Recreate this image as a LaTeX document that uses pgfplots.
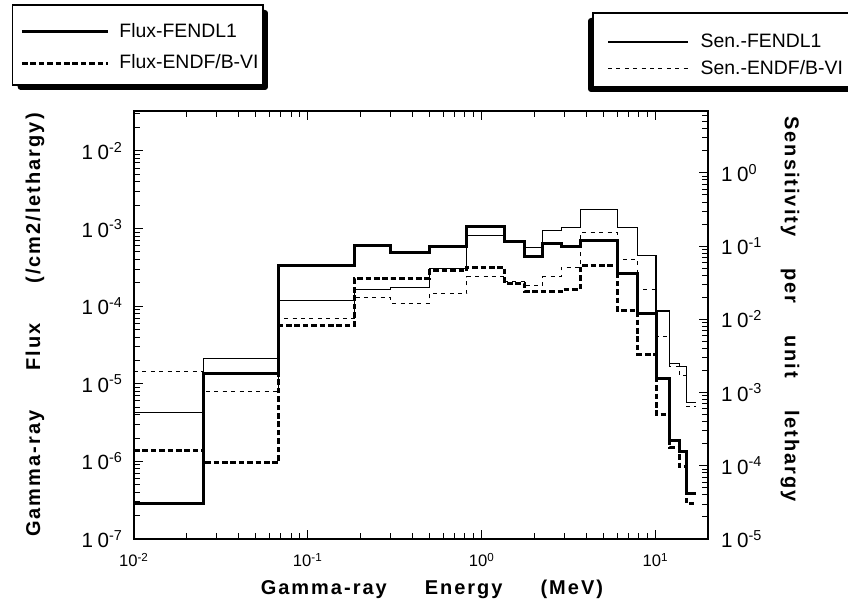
\documentclass[border=0pt]{standalone}
\usepackage{pgfplots}
\usepackage{pgfplotstable}
\pgfplotsset{compat=1.18}
\usepackage{fontspec}
\setmainfont{Liberation Sans}
\newfontfamily\lblfont[LetterSpace=10]{Liberation Sans}

\pgfplotstableread{
x      ff       fe       sf       se
0.01   2.9e-7   1.40e-6  5.3e-4   1.96e-3
0.025  1.35e-5  9.6e-7   2.95e-3  1.03e-3
0.068  3.37e-4  5.7e-5   0.0182   0.0102
0.185  6.0e-4   2.26e-4  0.0255   0.0198
0.3    4.95e-4  2.26e-4  0.0272   0.0167
0.5    5.9e-4   2.85e-4  0.0494   0.0225
0.82   1.06e-3  3.13e-4  0.138    0.038
1.36   6.8e-4   1.97e-4  0.118    0.0325
1.76   4.4e-4   1.54e-4  0.096    0.0292
2.24   6.4e-4   1.54e-4  0.162    0.038
2.86   5.8e-4   1.65e-4  0.180    0.051
3.69   7.1e-4   3.3e-4   0.318    0.152
6.05   2.65e-4  8.7e-5   0.180    0.066
7.89   8.1e-5   2.4e-5   0.0753   0.0255
10.05  1.17e-5  4.05e-6  0.013    5.8e-3
12.0   1.85e-6  1.5e-6   2.5e-3   2.3e-3
13.7   1.36e-6  8.5e-7   2.25e-3  1.7e-3
15.0   3.8e-7   2.85e-7  7.4e-4   6.5e-4
17.0   3.8e-7   2.85e-7  7.4e-4   6.5e-4
}\data

\newcommand{\tl}[1]{1\kern2.3pt0\textsuperscript{#1}}

\begin{document}
\begin{tikzpicture}
\path[use as bounding box] (-67pt,-34.5pt) rectangle (357pt,269.5pt);
% legend frames with their shadows (drawn first, behind the legends)
\fill[black, rounded corners=1.5pt] (-58.15pt,224.5pt) rectangle (67pt,264.5pt);
\draw[line width=0.6pt, fill=white] (-60.65pt,227pt) rectangle (64.5pt,267pt);
\fill[black, rounded corners=1.5pt] (227pt,223.5pt) rectangle (370pt,260.5pt);
\draw[line width=0.6pt, fill=white] (229.5pt,226pt) rectangle (372pt,263pt);
\begin{axis}[
  scale only axis, width=287pt, height=214pt,
  xmode=log, ymode=log, xmin=0.01, xmax=20,
  axis line style={line width=0.9pt},
  every tick/.style={black, line width=0.5pt},
  major tick length=4.5pt, minor tick length=3pt,
  tick align=inside,
  legend image code/.code={\draw[#1] (0pt,0pt) -- (43pt,0pt);},
  legend cell align=left,
  ymin=1e-7, ymax=0.0327,
  xtick pos=both, ytick pos=left, xticklabel pos=bottom,
  xtick={0.01,0.1,1,10},
  xticklabels={10\textsuperscript{-2},10\textsuperscript{-1},10\textsuperscript{0},10\textsuperscript{1}},
  minor xtick={0.02,0.03,0.04,0.05,0.06,0.07,0.08,0.09,0.2,0.3,0.4,0.5,0.6,0.7,0.8,0.9,2,3,4,5,6,7,8,9},
  ytick={1e-7,1e-6,1e-5,1e-4,1e-3,1e-2},
  yticklabels={\tl{-7},\tl{-6},\tl{-5},\tl{-4},\tl{-3},\tl{-2}},
  minor ytick={2e-7,3e-7,4e-7,5e-7,6e-7,7e-7,8e-7,9e-7,2e-6,3e-6,4e-6,5e-6,6e-6,7e-6,8e-6,9e-6,2e-5,3e-5,4e-5,5e-5,6e-5,7e-5,8e-5,9e-5,2e-4,3e-4,4e-4,5e-4,6e-4,7e-4,8e-4,9e-4,2e-3,3e-3,4e-3,5e-3,6e-3,7e-3,8e-3,9e-3,2e-2,3e-2},
  xticklabel style={font=\fontsize{8.3}{10}\selectfont, yshift=-3.5pt},
  yticklabel style={font=\fontsize{10.3}{12}\selectfont, xshift=-2pt},
  xlabel={\lblfont\bfseries Gamma-ray\hspace{19pt}Energy\hspace{19pt}(MeV)},
  xlabel style={at={(axis description cs:0.519,-0.117)}, anchor=center, font=\fontsize{10}{12}\selectfont},
  ylabel={\lblfont\bfseries Gamma-ray\hspace{20pt}Flux\hspace{20pt}(/cm2/lethargy)},
  ylabel style={at={(axis description cs:-0.1725,0.5)}, anchor=center, font=\fontsize{10}{12}\selectfont},
  legend style={at={(axis description cs:-0.1985,1.1483)}, anchor=west,
    draw=none, fill=none,
    font=\fontsize{9.7}{11}\selectfont, row sep=3pt, inner xsep=0pt, inner ysep=0pt},
]
\addplot[const plot, black, line width=1.5pt] table[x=x,y=ff]{\data};
\addlegendentry{\hspace*{3pt}Flux-FENDL1}
\addplot[const plot, black, line width=1.5pt, dash pattern=on 2.8pt off 1.4pt] table[x=x,y=fe]{\data};
\addlegendentry{\hspace*{3pt}Flux-ENDF/B-VI}
\end{axis}
\begin{axis}[
  scale only axis, width=287pt, height=214pt,
  xmode=log, ymode=log, xmin=0.01, xmax=20,
  axis line style={line width=0.9pt},
  every tick/.style={black, line width=0.5pt},
  major tick length=4.5pt, minor tick length=3pt,
  tick align=inside,
  legend image code/.code={\draw[#1] (0pt,0pt) -- (40pt,0pt);},
  legend cell align=left,
  ymin=1e-5, ymax=7,
  axis x line=none, axis y line*=right, ytick pos=right,
  ytick={1e-5,1e-4,1e-3,1e-2,1e-1,1},
  yticklabels={\tl{-5},\tl{-4},\tl{-3},\tl{-2},\tl{-1},\tl{0}},
  minor ytick={2e-5,3e-5,4e-5,5e-5,6e-5,7e-5,8e-5,9e-5,2e-4,3e-4,4e-4,5e-4,6e-4,7e-4,8e-4,9e-4,2e-3,3e-3,4e-3,5e-3,6e-3,7e-3,8e-3,9e-3,2e-2,3e-2,4e-2,5e-2,6e-2,7e-2,8e-2,9e-2,0.2,0.3,0.4,0.5,0.6,0.7,0.8,0.9,2,3,4,5,6,7},
  yticklabel style={font=\fontsize{10.3}{12}\selectfont, xshift=3pt},
  ylabel={\lblfont\bfseries Sensitivity\hspace{16pt}per\hspace{16pt}unit\hspace{16pt}lethargy},
  ylabel style={at={(axis description cs:1.143,0.537)}, anchor=center, rotate=180, font=\fontsize{10}{12}\selectfont},
  legend style={at={(axis description cs:0.8241,1.1296)}, anchor=west,
    draw=none, fill=none,
    font=\fontsize{9.7}{11}\selectfont, row sep=1pt, inner xsep=0pt, inner ysep=0pt},
]
\addplot[const plot, black, line width=0.6pt] table[x=x,y=sf]{\data};
\addlegendentry{\hspace*{4pt}Sen.-FENDL1}
\addplot[const plot, black, line width=0.45pt, dash pattern=on 2pt off 2.2pt] table[x=x,y=se]{\data};
\addlegendentry{\hspace*{4pt}Sen.-ENDF/B-VI}
\end{axis}
\end{tikzpicture}
\end{document}
